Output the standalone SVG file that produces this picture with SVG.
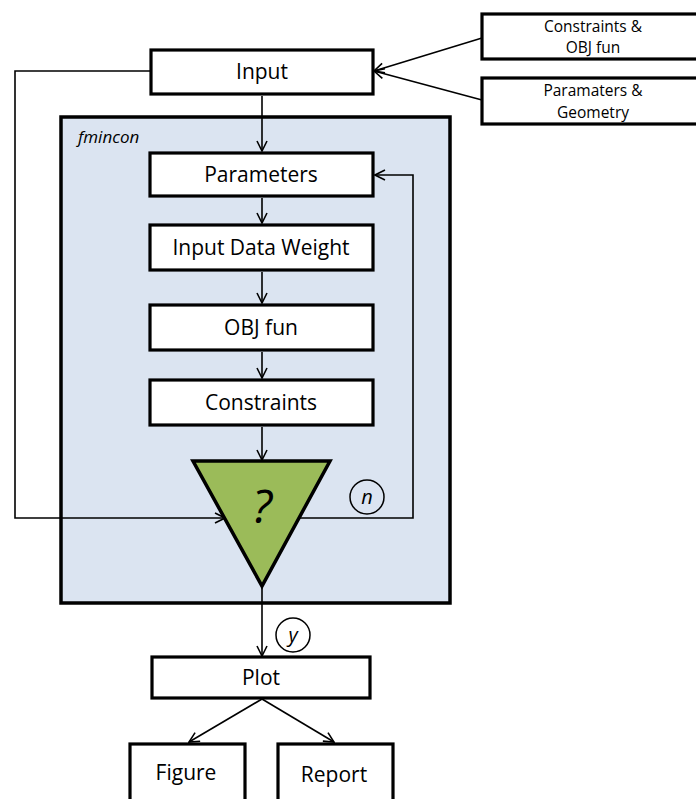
<svg xmlns="http://www.w3.org/2000/svg" width="696" height="799" viewBox="0 0 696 799">
<defs>
<style>
.box{fill:#fff;stroke:#000;stroke-width:3.2}
.t{font-family:"Open Sans","Liberation Sans",sans-serif;font-size:21px;fill:#000;text-anchor:middle}
.ts{font-family:"Open Sans","Liberation Sans",sans-serif;font-size:15.5px;fill:#000;text-anchor:middle}
.c{fill:none;stroke:#000;stroke-width:1.6}
.ah{fill:none;stroke:#000;stroke-width:1.6}
</style>
<marker id="arr" viewBox="0 0 12 12" refX="11" refY="6" markerWidth="12" markerHeight="12" markerUnits="userSpaceOnUse" orient="auto">
<path d="M1,1 L11,6 L1,11" class="ah"/>
</marker>
</defs>
<rect width="696" height="799" fill="#fff"/>
<g id="fmincon">
<rect x="61" y="117" width="389" height="486" fill="#dbe4f1" stroke="#000" stroke-width="3.5"/>
<text x="78" y="143" font-family="Open Sans, Liberation Sans, sans-serif" font-size="17" font-style="italic">fmincon</text>
</g>
<g id="connectors">
<line class="c" x1="482" y1="38" x2="374" y2="71" marker-end="url(#arr)"/>
<line class="c" x1="482" y1="100" x2="374" y2="71" marker-end="url(#arr)"/>
<polyline class="c" points="150,71 15,71 15,518 225,518" marker-end="url(#arr)"/>
<line class="c" x1="262" y1="96" x2="262" y2="151" marker-end="url(#arr)"/>
<line class="c" x1="262" y1="198" x2="262" y2="223" marker-end="url(#arr)"/>
<line class="c" x1="262" y1="272" x2="262" y2="303" marker-end="url(#arr)"/>
<line class="c" x1="262" y1="352" x2="262" y2="378" marker-end="url(#arr)"/>
<line class="c" x1="262" y1="427" x2="262" y2="460" marker-end="url(#arr)"/>
<polyline class="c" points="299,518 413,518 413,175 375,175" marker-end="url(#arr)"/>
<line class="c" x1="262" y1="586" x2="262" y2="656" marker-end="url(#arr)"/>
<line class="c" x1="262" y1="699" x2="189" y2="742" marker-end="url(#arr)"/>
<line class="c" x1="262" y1="699" x2="334" y2="742" marker-end="url(#arr)"/>
</g>
<g id="input">
<rect class="box" x="151" y="50" width="222" height="44"/>
<text class="t" x="262" y="79">Input</text>
</g>
<g id="constraints-obj">
<rect class="box" x="482" y="14" width="216" height="45"/>
<text class="ts" x="593" y="32">Constraints &amp;</text>
<text class="ts" x="593" y="53">OBJ fun</text>
</g>
<g id="param-geom">
<rect class="box" x="482" y="78" width="216" height="46"/>
<text class="ts" x="593" y="96">Paramaters &amp;</text>
<text class="ts" x="593" y="118">Geometry</text>
</g>
<g id="parameters">
<rect class="box" x="150" y="153" width="223" height="43"/>
<text class="t" x="261" y="182">Parameters</text>
</g>
<g id="input-data-weight">
<rect class="box" x="150" y="225" width="223" height="45"/>
<text class="t" x="261" y="255">Input Data Weight</text>
</g>
<g id="obj-fun">
<rect class="box" x="150" y="305" width="223" height="45"/>
<text class="t" x="261" y="335">OBJ fun</text>
</g>
<g id="constraints">
<rect class="box" x="150" y="380" width="223" height="45"/>
<text class="t" x="261" y="410">Constraints</text>
</g>
<g id="decision">
<polygon points="193,461 330,461 262,586" fill="#9bbb59" stroke="#000" stroke-width="3.5" stroke-linejoin="miter"/>
<text x="262" y="523" font-family="Open Sans, Liberation Sans, sans-serif" font-size="46" font-style="italic" text-anchor="middle">?</text>
</g>
<g id="n-label">
<circle cx="367" cy="497" r="17" fill="none" stroke="#000" stroke-width="1.5"/>
<text x="367" y="504" font-family="Open Sans, Liberation Sans, sans-serif" font-size="20" font-style="italic" text-anchor="middle">n</text>
</g>
<g id="y-label">
<circle cx="293" cy="635" r="17" fill="none" stroke="#000" stroke-width="1.5"/>
<text x="293" y="642" font-family="Open Sans, Liberation Sans, sans-serif" font-size="20" font-style="italic" text-anchor="middle">y</text>
</g>
<g id="plot">
<rect class="box" x="152" y="657" width="218" height="41"/>
<text class="t" x="261" y="685">Plot</text>
</g>
<g id="figure">
<rect class="box" x="130" y="744" width="115" height="70"/>
<text class="t" x="186" y="780">Figure</text>
</g>
<g id="report">
<rect class="box" x="278" y="744" width="115" height="70"/>
<text class="t" x="334" y="782">Report</text>
</g>
</svg>
